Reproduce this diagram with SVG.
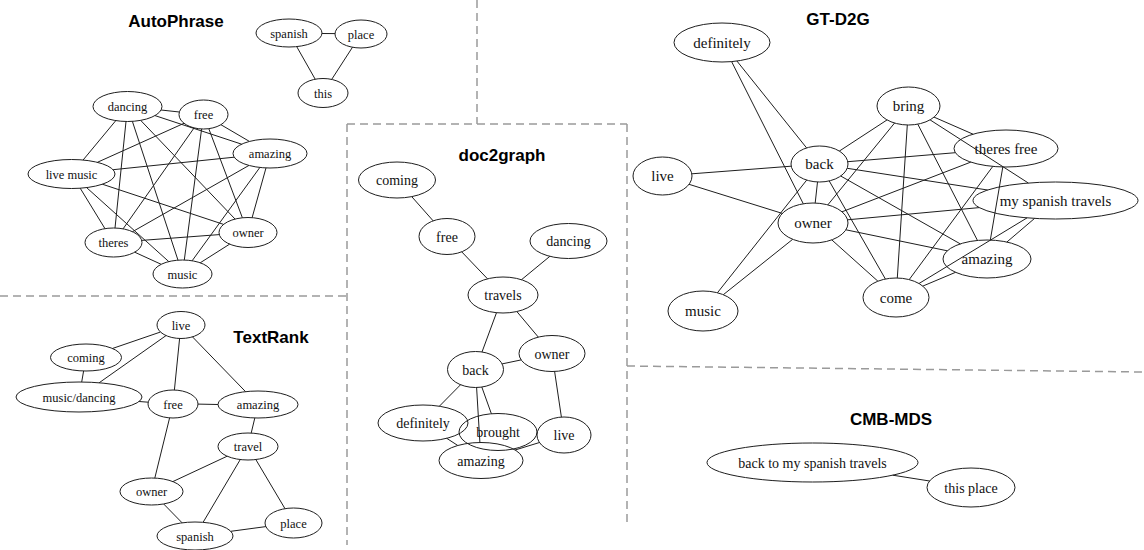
<svg xmlns="http://www.w3.org/2000/svg" width="1144" height="550" viewBox="0 0 1144 550">
  <style>
    .frame { fill: none; stroke: #9a9a9a; stroke-width: 1.5; stroke-dasharray: 8 5; }
    .title { font-family: "Liberation Sans", Arial, sans-serif; font-weight: bold; font-size: 17px; fill: #000; text-anchor: middle; }
    .node ellipse { fill: none; stroke: #1e1e1e; stroke-width: 1; }
    .node text { font-family: "Liberation Serif", "Times New Roman", serif; fill: #111; text-anchor: middle; }
    .s1 text { font-size: 12.5px; }
    .s2 text { font-size: 14px; }
    .s3 text { font-size: 15px; }
    #connectors line { stroke: #1e1e1e; stroke-width: 1; }
  </style>

  <!-- panel separators -->
  <g id="frames">
    <line class="frame" x1="477" y1="0" x2="477" y2="124"/>
    <line class="frame" x1="347" y1="124" x2="627" y2="124"/>
    <line class="frame" x1="347" y1="124" x2="347" y2="545"/>
    <line class="frame" x1="0" y1="296" x2="347" y2="296"/>
    <line class="frame" x1="627" y1="124" x2="627" y2="522"/>
    <line class="frame" x1="627" y1="366" x2="1144" y2="372"/>
  </g>

  <!-- panel titles -->
  <g id="titles">
    <text class="title" x="176" y="27">AutoPhrase</text>
    <text class="title" x="271" y="343">TextRank</text>
    <text class="title" x="502" y="161">doc2graph</text>
    <text class="title" x="838" y="25">GT-D2G</text>
    <text class="title" x="891" y="425">CMB-MDS</text>
  </g>

  <g id="connectors">
    <!-- AutoPhrase -->
    <g id="edges-autophrase">
      <line x1="322" y1="33.5" x2="335" y2="33.6"/>
      <line x1="296.7" y1="46.6" x2="315.2" y2="79.2"/>
      <line x1="352.5" y1="47.2" x2="331.7" y2="79.4"/>
      <line x1="161" y1="110" x2="179.4" y2="112"/>
      <line x1="155" y1="115.6" x2="241.7" y2="144.2"/>
      <line x1="115.8" y1="120.6" x2="83.1" y2="160"/>
      <line x1="140.7" y1="120.4" x2="235.1" y2="219.1"/>
      <line x1="126" y1="121.5" x2="115" y2="228"/>
      <line x1="132.4" y1="121.4" x2="178" y2="260.2"/>
      <line x1="220.9" y1="124.7" x2="249.4" y2="141.4"/>
      <line x1="184" y1="123.3" x2="97.4" y2="162.3"/>
      <line x1="208.8" y1="128.7" x2="242.4" y2="217.8"/>
      <line x1="194.1" y1="127.9" x2="123.1" y2="228.8"/>
      <line x1="201.6" y1="129" x2="184.3" y2="260"/>
      <line x1="234.2" y1="157.2" x2="113.1" y2="169.7"/>
      <line x1="266" y1="167.9" x2="252.1" y2="217.7"/>
      <line x1="249" y1="165.4" x2="132.5" y2="231.7"/>
      <line x1="259.9" y1="167.4" x2="192.1" y2="260.8"/>
      <line x1="102.3" y1="184.2" x2="223.6" y2="224.4"/>
      <line x1="80.2" y1="188.2" x2="105" y2="228.7"/>
      <line x1="86.6" y1="187.6" x2="168.8" y2="261.6"/>
      <line x1="219.3" y1="234.6" x2="141.7" y2="240.4"/>
      <line x1="229.7" y1="244.1" x2="200.2" y2="262.8"/>
      <line x1="134.7" y1="252.2" x2="161.2" y2="264.3"/>
    </g>
    <!-- TextRank -->
    <g id="edges-textrank">
      <line x1="160.5" y1="332" x2="112.4" y2="348.5"/>
      <line x1="166" y1="335.6" x2="99.1" y2="382.8"/>
      <line x1="83.6" y1="371" x2="81.7" y2="382"/>
      <line x1="179.6" y1="338.5" x2="174.4" y2="390"/>
      <line x1="192.5" y1="336.9" x2="245.6" y2="391.7"/>
      <line x1="139.1" y1="401.5" x2="148.2" y2="402.2"/>
      <line x1="198" y1="404.1" x2="218" y2="404.5"/>
      <line x1="254.8" y1="418" x2="251.2" y2="433.1"/>
      <line x1="169.6" y1="417.9" x2="154.8" y2="478.1"/>
      <line x1="227.2" y1="456.2" x2="172.8" y2="481.6"/>
      <line x1="240.3" y1="459.5" x2="203.1" y2="522.3"/>
      <line x1="255.8" y1="459.5" x2="285" y2="508.7"/>
      <line x1="163.7" y1="504" x2="182.1" y2="522.8"/>
      <line x1="230.8" y1="531.3" x2="265.9" y2="526.6"/>
    </g>
    <!-- doc2graph -->
    <g id="edges-doc2graph">
      <line x1="411.7" y1="196.6" x2="433.2" y2="220.9"/>
      <line x1="461.7" y1="251.8" x2="487.5" y2="278.8"/>
      <line x1="549.9" y1="256.3" x2="521.5" y2="279.7"/>
      <line x1="496.5" y1="312.7" x2="482" y2="352"/>
      <line x1="516.8" y1="311.5" x2="538.3" y2="337.1"/>
      <line x1="502.1" y1="363.9" x2="521.2" y2="359.9"/>
      <line x1="460.6" y1="384.7" x2="439.4" y2="406.2"/>
      <line x1="481.8" y1="387" x2="491.4" y2="413.8"/>
      <line x1="476.6" y1="387.5" x2="479.9" y2="442.5"/>
      <line x1="554.6" y1="371.4" x2="561.4" y2="417.1"/>
      <line x1="446.7" y1="438.3" x2="457.8" y2="445.5"/>
      <line x1="515.1" y1="450" x2="539.5" y2="442.5"/>
    </g>
    <!-- GT-D2G -->
    <g id="edges-gtd2g">
      <line x1="736.9" y1="61" x2="806.6" y2="147.9"/>
      <line x1="731.6" y1="61.6" x2="803.3" y2="203.8"/>
      <line x1="691.8" y1="173.8" x2="791.2" y2="166.2"/>
      <line x1="689" y1="184.3" x2="782.3" y2="213.4"/>
      <line x1="839.3" y1="151.1" x2="887.1" y2="119.9"/>
      <line x1="847.8" y1="161.7" x2="955.4" y2="152.7"/>
      <line x1="817.5" y1="182" x2="815.2" y2="203"/>
      <line x1="806.7" y1="180.1" x2="717.4" y2="292.8"/>
      <line x1="829.2" y1="180.9" x2="885.4" y2="279"/>
      <line x1="847.2" y1="168.3" x2="987.6" y2="190"/>
      <line x1="840.7" y1="176" x2="960.3" y2="243.9"/>
      <line x1="827.8" y1="204.9" x2="894.6" y2="123"/>
      <line x1="842" y1="211.8" x2="970.8" y2="162.1"/>
      <line x1="847.6" y1="219.8" x2="979.3" y2="207.6"/>
      <line x1="845.9" y1="229.8" x2="947.3" y2="250.8"/>
      <line x1="831.8" y1="239.9" x2="877.9" y2="281.2"/>
      <line x1="792.7" y1="239.3" x2="723.3" y2="294.7"/>
      <line x1="934" y1="117.1" x2="973.1" y2="134.2"/>
      <line x1="930.1" y1="119.9" x2="1028.3" y2="183"/>
      <line x1="917.8" y1="124.2" x2="977.5" y2="240.5"/>
      <line x1="907.3" y1="125" x2="897.3" y2="278"/>
      <line x1="1002.8" y1="167" x2="990.3" y2="240.1"/>
      <line x1="992.8" y1="166.4" x2="909.2" y2="279.6"/>
      <line x1="1034.6" y1="218.4" x2="1006.9" y2="242"/>
      <line x1="1027" y1="217.9" x2="919" y2="283.5"/>
      <line x1="955.6" y1="272.3" x2="922.8" y2="286.1"/>
    </g>
    <!-- CMB-MDS -->
    <g id="edges-cmbmds">
      <line x1="892.8" y1="475.2" x2="929.6" y2="481"/>
    </g>
  </g>

  <!-- AutoPhrase nodes -->
  <g class="s1">
    <g id="ap-spanish" class="node"><ellipse cx="289" cy="33" rx="33" ry="14"/><text x="289" y="37.5">spanish</text></g>
    <g id="ap-place" class="node"><ellipse cx="361" cy="34" rx="26" ry="14"/><text x="361" y="38.5">place</text></g>
    <g id="ap-this" class="node"><ellipse cx="323" cy="93" rx="25" ry="14.5"/><text x="323" y="97.5">this</text></g>
    <g id="ap-dancing" class="node"><ellipse cx="127.5" cy="106.5" rx="34.5" ry="15"/><text x="127.5" y="111">dancing</text></g>
    <g id="ap-free" class="node"><ellipse cx="203.5" cy="114.5" rx="24.5" ry="14.5"/><text x="203.5" y="119">free</text></g>
    <g id="ap-amazing" class="node"><ellipse cx="270" cy="153.5" rx="37" ry="14.5"/><text x="270" y="158">amazing</text></g>
    <g id="ap-live-music" class="node"><ellipse cx="71.5" cy="174" rx="43.5" ry="14.5"/><text x="71.5" y="178.5">live music</text></g>
    <g id="ap-owner" class="node"><ellipse cx="248" cy="232.5" rx="29" ry="15"/><text x="248" y="237">owner</text></g>
    <g id="ap-theres" class="node"><ellipse cx="113.5" cy="242.5" rx="28.5" ry="14.5"/><text x="113.5" y="247">theres</text></g>
    <g id="ap-music" class="node"><ellipse cx="182.5" cy="274" rx="29.5" ry="14"/><text x="182.5" y="278.5">music</text></g>
  </g>

  <!-- TextRank nodes -->
  <g class="s1">
    <g id="tr-live" class="node"><ellipse cx="181" cy="325" rx="24" ry="13.5"/><text x="181" y="329.5">live</text></g>
    <g id="tr-coming" class="node"><ellipse cx="86" cy="357.5" rx="35.5" ry="13.5"/><text x="86" y="362">coming</text></g>
    <g id="tr-music-dancing" class="node"><ellipse cx="79" cy="397" rx="63" ry="15"/><text x="79" y="401.5">music/dancing</text></g>
    <g id="tr-free" class="node"><ellipse cx="173" cy="404" rx="25" ry="14"/><text x="173" y="408.5">free</text></g>
    <g id="tr-amazing" class="node"><ellipse cx="258" cy="404.5" rx="40" ry="13.5"/><text x="258" y="409">amazing</text></g>
    <g id="tr-travel" class="node"><ellipse cx="248" cy="446.5" rx="30" ry="13.5"/><text x="248" y="451">travel</text></g>
    <g id="tr-owner" class="node"><ellipse cx="151.5" cy="491.5" rx="31.5" ry="13.5"/><text x="151.5" y="496">owner</text></g>
    <g id="tr-spanish" class="node"><ellipse cx="195" cy="536" rx="38" ry="14"/><text x="195" y="540.5">spanish</text></g>
    <g id="tr-place" class="node"><ellipse cx="293.5" cy="523" rx="28.5" ry="15"/><text x="293.5" y="527.5">place</text></g>
  </g>

  <!-- doc2graph nodes -->
  <g class="s2">
    <g id="dg-coming" class="node"><ellipse cx="397" cy="180" rx="38.5" ry="18"/><text x="397" y="185">coming</text></g>
    <g id="dg-free" class="node"><ellipse cx="447" cy="236.5" rx="28" ry="18"/><text x="447" y="241.5">free</text></g>
    <g id="dg-dancing" class="node"><ellipse cx="568.5" cy="241" rx="38.5" ry="17.5"/><text x="568.5" y="246">dancing</text></g>
    <g id="dg-travels" class="node"><ellipse cx="503" cy="295" rx="35" ry="18"/><text x="503" y="300">travels</text></g>
    <g id="dg-back" class="node"><ellipse cx="475.5" cy="369.5" rx="28" ry="18"/><text x="475.5" y="374.5">back</text></g>
    <g id="dg-owner" class="node"><ellipse cx="552" cy="353.5" rx="33" ry="18"/><text x="552" y="358.5">owner</text></g>
    <g id="dg-definitely" class="node"><ellipse cx="423" cy="423" rx="45" ry="18"/><text x="423" y="428">definitely</text></g>
    <g id="dg-brought" class="node"><ellipse cx="498" cy="432" rx="39" ry="18.5"/><text x="498" y="437">brought</text></g>
    <g id="dg-live" class="node"><ellipse cx="564" cy="435" rx="27" ry="18"/><text x="564" y="440">live</text></g>
    <g id="dg-amazing" class="node"><ellipse cx="481" cy="460.5" rx="42" ry="18"/><text x="481" y="465.5">amazing</text></g>
  </g>

  <!-- GT-D2G nodes -->
  <g class="s3">
    <g id="gt-definitely" class="node"><ellipse cx="722" cy="42.5" rx="48" ry="19.5"/><text x="722" y="47.5">definitely</text></g>
    <g id="gt-bring" class="node"><ellipse cx="908.5" cy="106" rx="31.5" ry="19"/><text x="908.5" y="111">bring</text></g>
    <g id="gt-theres-free" class="node"><ellipse cx="1006" cy="148.5" rx="52" ry="18.5"/><text x="1006" y="153.5">theres free</text></g>
    <g id="gt-back" class="node"><ellipse cx="819.5" cy="164" rx="28.5" ry="18"/><text x="819.5" y="169">back</text></g>
    <g id="gt-live" class="node"><ellipse cx="662.5" cy="176" rx="29.5" ry="19"/><text x="662.5" y="181">live</text></g>
    <g id="gt-owner" class="node"><ellipse cx="813" cy="223" rx="35" ry="20"/><text x="813" y="228">owner</text></g>
    <g id="gt-my-spanish-travels" class="node"><ellipse cx="1055.5" cy="200.5" rx="82.5" ry="18.5"/><text x="1055.5" y="205.5">my spanish travels</text></g>
    <g id="gt-amazing" class="node"><ellipse cx="987" cy="259" rx="44" ry="19"/><text x="987" y="264">amazing</text></g>
    <g id="gt-come" class="node"><ellipse cx="896" cy="297.5" rx="33" ry="19.5"/><text x="896" y="302.5">come</text></g>
    <g id="gt-music" class="node"><ellipse cx="703" cy="311" rx="35" ry="20"/><text x="703" y="316">music</text></g>
  </g>

  <!-- CMB-MDS nodes -->
  <g class="s2">
    <g id="cm-back-to-my-spanish-travels" class="node"><ellipse cx="812.5" cy="462.5" rx="105.5" ry="19.5"/><text x="812.5" y="467.5">back to my spanish travels</text></g>
    <g id="cm-this-place" class="node"><ellipse cx="971" cy="487.5" rx="44" ry="19.5"/><text x="971" y="492.5">this place</text></g>
  </g>
</svg>
